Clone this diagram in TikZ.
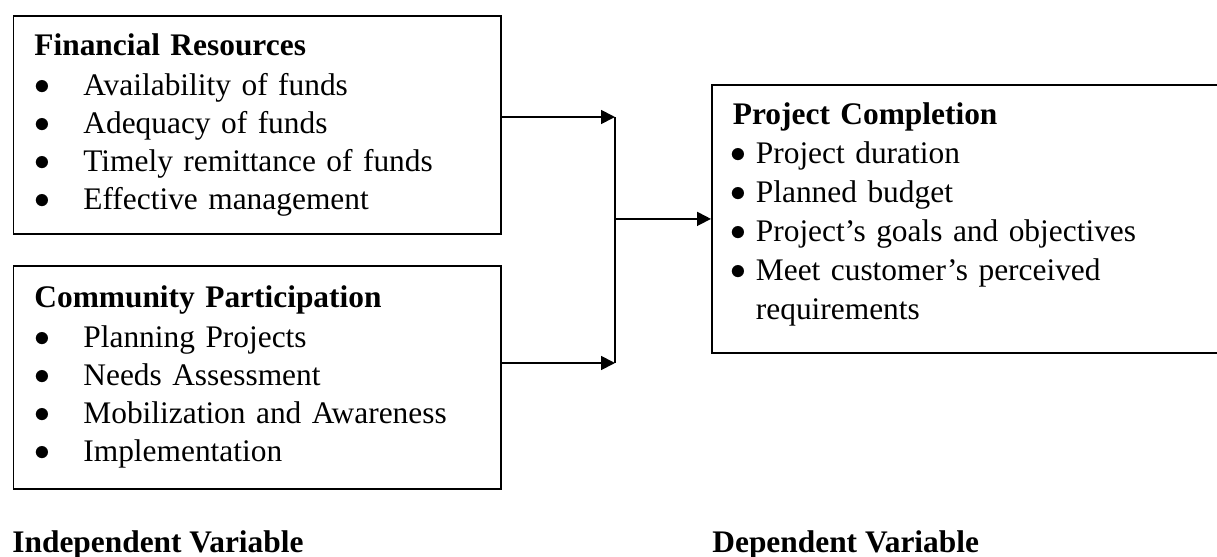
\documentclass[tikz,border=0pt]{standalone}
\usepackage{fontspec}
\usepackage{graphicx}
\setmainfont{Liberation Serif}
\usetikzlibrary{arrows.meta}

\newcommand{\dotmark}{\raisebox{0.6pt}{\scalebox{1.1}{$\bullet$}}}
\newcommand{\bitem}[1]{\makebox[24.5pt][l]{\dotmark}#1}
\newcommand{\citem}[1]{\makebox[11.5pt][l]{\hspace{-1pt}\dotmark}#1}

\begin{document}
\begin{tikzpicture}[
  x=0.5pt, y=-0.5pt,
  font=\fontsize{15.7pt}{19pt}\selectfont,
  box/.style={
    rectangle, draw=black, line width=0.9pt, anchor=north west,
    align=left, inner xsep=10.5pt, inner ysep=0pt
  },
  arr/.style={line width=0.9pt, -{Triangle[length=7pt,width=7pt]}},
  lbl/.style={font=\fontsize{15.7pt}{19pt}\selectfont\bfseries, anchor=base west, inner sep=0pt},
]
\path[use as bounding box, clip] (0,0) rectangle (1217,557);

% Independent variables (left)
\node[box, text width=222.75pt, minimum height=109pt] (fin) at (12.5,15)
  {\textbf{Financial Resources}\\[1pt]
   \bitem{Availability of funds}\\
   \bitem{Adequacy of funds}\\
   \bitem{Timely remittance of funds}\\
   \bitem{Effective management}};

\node[box, text width=222.75pt, minimum height=111.5pt] (com) at (12.5,265)
  {\textbf{Community Participation}\\[1pt]
   \bitem{Planning Projects}\\
   \bitem{Needs Assessment}\\
   \bitem{Mobilization and Awareness}\\
   \bitem{Implementation}};

% Dependent variable (right, runs off the page)
\node[box, text width=249pt, minimum height=134pt,
      font=\fontsize{15.7pt}{19.5pt}\selectfont] (done) at (711,84)
  {\textbf{Project Completion}\\
   \citem{Project duration}\\
   \citem{Planned budget}\\
   \citem{Project's goals and objectives}\\
   \citem{Meet customer's perceived}\\
   \hspace*{11.5pt}requirements\rule[-7.5pt]{0pt}{1pt}};

% Connectors
\coordinate (jtop) at (615,117);
\coordinate (jbot) at (615,363);
\draw[arr] (fin.east |- jtop) -- (jtop);
\draw[arr] (com.east |- jbot) -- (jbot);
\draw[line width=0.9pt] (jtop) -- (jbot);
\draw[arr] (jtop |- done.west) -- (done.west);

% Captions
\node[lbl] (indep) at (12,552) {Independent Variable};
\node[lbl] (dep) at (712,552) {Dependent Variable};

\end{tikzpicture}
\end{document}
